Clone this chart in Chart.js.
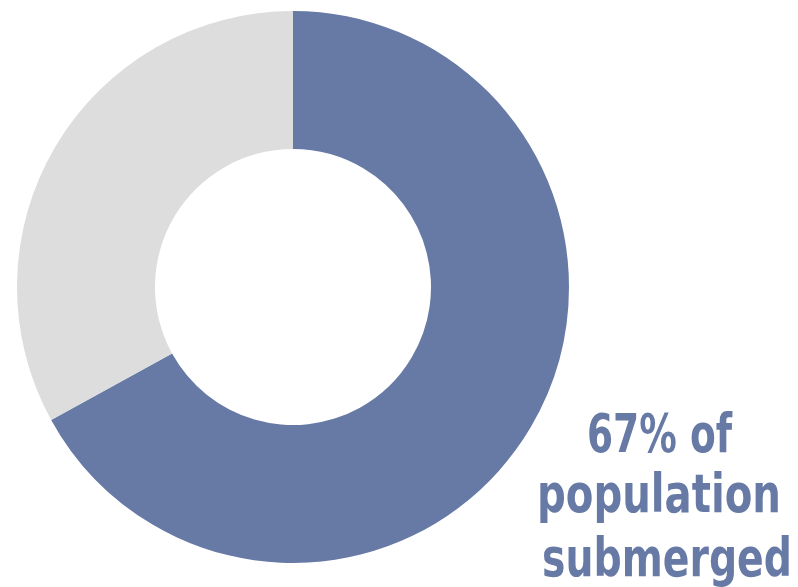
<!DOCTYPE html>
<html>
<head>
<meta charset="utf-8">
<script src="https://cdn.jsdelivr.net/npm/chart.js@4/dist/chart.umd.min.js"></script>
<style>
  html, body { margin: 0; padding: 0; background: #fff; }
  #wrap { width: 798px; height: 587px; position: relative; }
</style>
</head>
<body>
<div id="wrap"><canvas id="myChart"></canvas></div>
<script>
var categories = ['Submerged', 'Not submerged'];
var shares = [67, 33];
var colors = ['#6779a5', '#dddddd'];
var captionLines = [shares[0] + '% of', 'population', 'submerged'];

// caption in the lower right; each line squeezed to its own box
var caption = {
    id: 'caption',
    afterDraw: function (chart) {
        var ctx = chart.ctx;
        var boxes = [
            { x: 587, y: 452, w: 145 },
            { x: 537, y: 512, w: 244 },
            { x: 542, y: 576, w: 250 }
        ];
        ctx.save();
        ctx.fillStyle = colors[0];
        ctx.textAlign = 'left';
        ctx.textBaseline = 'alphabetic';
        ctx.font = 'bold 54px "DejaVu Sans Condensed", "Liberation Sans Narrow", sans-serif';
        captionLines.forEach(function (line, i) {
            var b = boxes[i];
            var w = ctx.measureText(line).width;
            ctx.save();
            ctx.translate(b.x, b.y);
            ctx.scale(b.w / w, 1);
            ctx.fillText(line, 0, 0);
            ctx.restore();
        });
        ctx.restore();
    }
};

var ctx = document.getElementById('myChart');
var myChart = new Chart(ctx, {
    type: 'doughnut',
    data: {
        labels: categories,
        datasets: [{
            data: shares,
            backgroundColor: colors,
            hoverBackgroundColor: colors,
            borderWidth: 0
        }]
    },
    options: {
        responsive: true,
        maintainAspectRatio: false,
        animation: false,
        cutout: '50%',
        layout: {
            padding: { left: 17, top: 11, right: 229, bottom: 24 }
        },
        plugins: {
            legend: { display: false },
            tooltip: { enabled: false }
        }
    },
    plugins: [caption]
});
</script>
</body>
</html>
